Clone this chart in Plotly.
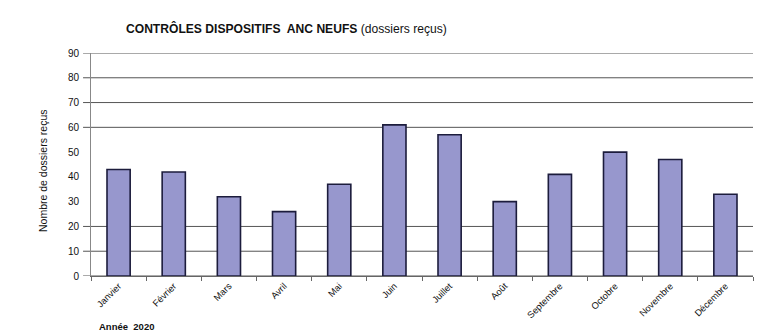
import plotly.graph_objects as go

months = ["Janvier", "Février", "Mars", "Avril", "Mai", "Juin", "Juillet",
          "Août", "Septembre", "Octobre", "Novembre", "Décembre"]
dossiers = [43, 42, 32, 26, 37, 61, 57, 30, 41, 50, 47, 33]
y_ticks = [0, 10, 20, 30, 40, 50, 60, 70, 80, 90]
grid_levels = [0, 10, 20, 60, 70, 80, 90]

FONT = "Liberation Sans, Arial, sans-serif"
W, H = 763, 336
ML, MR, MT, MB = 91, 10, 53, 60


def px_to_paper(px, py):
    """Convert a pixel position on the page to paper coordinates."""
    return (px - ML) / (W - ML - MR), (H - MB - py) / (H - MT - MB)


fig = go.Figure()
fig.add_trace(go.Bar(
    x=months, y=dossiers,
    marker=dict(color="#9797CD", line=dict(color="#1c1c3c", width=1.6)),
    width=0.42,
))

# horizontal guide lines, running slightly past the y axis as tick marks
for lvl in grid_levels:
    fig.add_shape(type="line", xref="x domain", yref="y",
                  x0=-0.012, x1=1, y0=lvl, y1=lvl,
                  line=dict(color="#555555", width=1), layer="below")

tx, ty = px_to_paper(124, 29)
yx, yy = px_to_paper(43, 170)
ax, ay = px_to_paper(97, 326)

fig.update_layout(
    width=W, height=H,
    margin=dict(l=ML, r=MR, t=MT, b=MB),
    paper_bgcolor="white", plot_bgcolor="white",
    showlegend=False,
    font=dict(family=FONT, color="#111111"),
    xaxis=dict(
        tickangle=-45, tickfont=dict(size=9.3),
        showline=True, linecolor="#666666", linewidth=1,
        ticks="outside", tickson="boundaries", ticklen=4,
        tickcolor="#666666", showgrid=False,
    ),
    yaxis=dict(
        range=[0, 90], tickvals=y_ticks, tickfont=dict(size=10),
        showgrid=False, zeroline=False, ticks="",
        showline=True, linecolor="#888888", linewidth=1,
        ticklabelstandoff=9,
    ),
    annotations=[
        dict(text="<b>CONTRÔLES DISPOSITIFS  ANC NEUFS</b> (dossiers reçus)",
             xref="paper", yref="paper", x=tx, y=ty,
             xanchor="left", yanchor="middle", showarrow=False,
             font=dict(size=12.1, color="#111111")),
        dict(text="Nombre de dossiers reçus", textangle=-90,
             xref="paper", yref="paper", x=yx, y=yy,
             xanchor="center", yanchor="middle", showarrow=False,
             font=dict(size=10.5, color="#111111")),
        dict(text="<b>Année  2020</b>",
             xref="paper", yref="paper", x=ax, y=ay,
             xanchor="left", yanchor="middle", showarrow=False,
             font=dict(size=9.5, color="#111111")),
    ],
)

fig.write_html("out.html")
